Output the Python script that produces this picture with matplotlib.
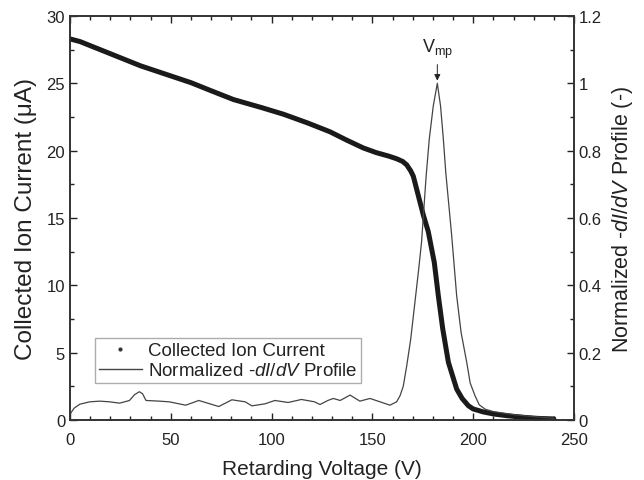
import numpy as np
import matplotlib
matplotlib.use('Agg')
import matplotlib.pyplot as plt
from matplotlib.lines import Line2D
from matplotlib.ticker import MultipleLocator

plt.rcParams['font.family'] = ['Liberation Sans', 'DejaVu Sans']
plt.rcParams['mathtext.fontset'] = 'custom'
plt.rcParams['mathtext.rm'] = 'Liberation Sans'
plt.rcParams['mathtext.it'] = 'Liberation Sans:italic'
plt.rcParams['mathtext.default'] = 'regular'

# collected ion current (left axis)
v_cur = [0, 5, 15, 25, 35, 47, 60, 70, 81, 95, 106, 118, 129, 137, 145.5, 152, 158, 162, 165,
         167, 169, 170.3, 172.8, 175.3, 177.7, 180.7, 182.7, 184.9, 187.7, 191.8, 194.5, 197.6,
         200, 205, 210, 216.6, 225, 232, 240]
i_cur = [28.3, 28.1, 27.5, 26.9, 26.3, 25.7, 25.05, 24.45, 23.8, 23.2, 22.7, 22.05, 21.4, 20.8,
         20.2, 19.85, 19.6, 19.4, 19.2, 18.95, 18.5, 18.1, 16.65, 15.2, 14.0, 11.7, 9.23, 6.76,
         4.28, 2.30, 1.6, 1.06, 0.82, 0.6, 0.45, 0.32, 0.2, 0.12, 0.08]

# normalized -dI/dV profile (right axis)
v_prof = [0, 2, 4.9, 9.8, 14.8, 19.7, 24.6, 29.5, 32, 34.4, 36, 37.7, 44.3, 49.2, 57.4, 63.9,
          70.5, 73.8, 80.3, 86.9, 90.2, 96.7, 101.6, 108.2, 114.8, 121.3, 124, 127.9, 130.6,
          134, 138.9, 143.8, 148.8, 153.8, 158.7, 162, 163.7, 165.3, 167, 169, 171.1, 173,
          174.4, 176.6, 178.2, 180.2, 182.2, 183.8, 185.2, 186.4, 189.3, 191.8, 194, 196.8,
          198.5, 200.9, 203, 206, 210, 220, 230, 240]
p_prof = [0.017, 0.035, 0.047, 0.054, 0.056, 0.054, 0.050, 0.058, 0.075, 0.084, 0.078, 0.058,
          0.056, 0.054, 0.044, 0.058, 0.046, 0.040, 0.060, 0.054, 0.042, 0.048, 0.058, 0.052,
          0.061, 0.054, 0.046, 0.058, 0.064, 0.058, 0.074, 0.056, 0.064, 0.054, 0.044, 0.054,
          0.072, 0.10, 0.16, 0.24, 0.35, 0.45, 0.53, 0.72, 0.834, 0.933, 1.0, 0.933, 0.834,
          0.735, 0.55, 0.369, 0.26, 0.171, 0.11, 0.072, 0.045, 0.032, 0.025, 0.016, 0.01, 0.005]

v_mp = 182.2

fc = '#222222'
fig = plt.figure(figsize=(6.44, 4.81), dpi=100)
ax1 = fig.add_axes([70/644, 1-421/481, 504/644, 404/481])
ax2 = ax1.twinx()

ax1.plot(v_cur, i_cur, color='#1a1a1a', lw=3.6, solid_capstyle='round', zorder=3)
ax2.plot(v_prof, p_prof, color='#444444', lw=0.9)

ax1.set_xlim(0, 250)
ax1.set_ylim(0, 30)
ax2.set_ylim(0, 1.2)
ax1.xaxis.set_major_locator(MultipleLocator(50))
ax1.xaxis.set_minor_locator(MultipleLocator(10))
ax1.yaxis.set_major_locator(MultipleLocator(5))
ax1.yaxis.set_minor_locator(MultipleLocator(2.5))
ax2.set_yticks([0, 0.2, 0.4, 0.6, 0.8, 1.0, 1.2])
ax2.set_yticklabels(['0', '0.2', '0.4', '0.6', '0.8', '1', '1.2'])
ax2.yaxis.set_minor_locator(MultipleLocator(0.1))

ax1.tick_params(which='both', direction='in', top=True, labelsize=12, colors=fc, width=1)
ax1.tick_params(which='major', length=5)
ax1.tick_params(which='minor', length=3)
ax1.tick_params(axis='x', pad=9)
ax2.tick_params(which='both', direction='in', labelsize=12, colors=fc, width=1)
ax2.tick_params(which='major', length=5)
ax2.tick_params(which='minor', length=3)
for ax in (ax1, ax2):
    for s in ax.spines.values():
        s.set_color('#333333')
        s.set_linewidth(1.2)

ax1.set_xlabel('Retarding Voltage (V)', fontsize=15, color=fc, labelpad=8)
ax1.set_ylabel('Collected Ion Current (μA)', fontsize=17.5, color=fc, labelpad=7)
ax2.set_ylabel(r'Normalized -$\mathit{dI/dV}$ Profile (-)', fontsize=15.5, color=fc, labelpad=6)

ax2.annotate(r'V$_{\mathrm{mp}}$', xy=(v_mp, 1.008), xytext=(v_mp, 1.068),
             ha='center', va='bottom', fontsize=13, color=fc,
             arrowprops=dict(arrowstyle='-|>', color='#222222', lw=0.7,
                             mutation_scale=9, shrinkA=1, shrinkB=0))

handles = [Line2D([], [], color='#333333', marker='.', markersize=4, linestyle='none'),
           Line2D([], [], color='#444444', lw=1)]
labels = ['Collected Ion Current', r'Normalized -$\mathit{dI/dV}$ Profile']
leg = ax1.legend(handles, labels, loc='lower left', bbox_to_anchor=(25/504, 37/404),
                 fontsize=13.5, frameon=True, fancybox=False, borderpad=0.2,
                 handlelength=2.3, handletextpad=0.3, labelspacing=0.15,
                 borderaxespad=0)
leg.get_frame().set_edgecolor('#999999')
leg.get_frame().set_linewidth(1)
for t in leg.get_texts():
    t.set_color(fc)

fig.savefig('out.png', dpi=100)
